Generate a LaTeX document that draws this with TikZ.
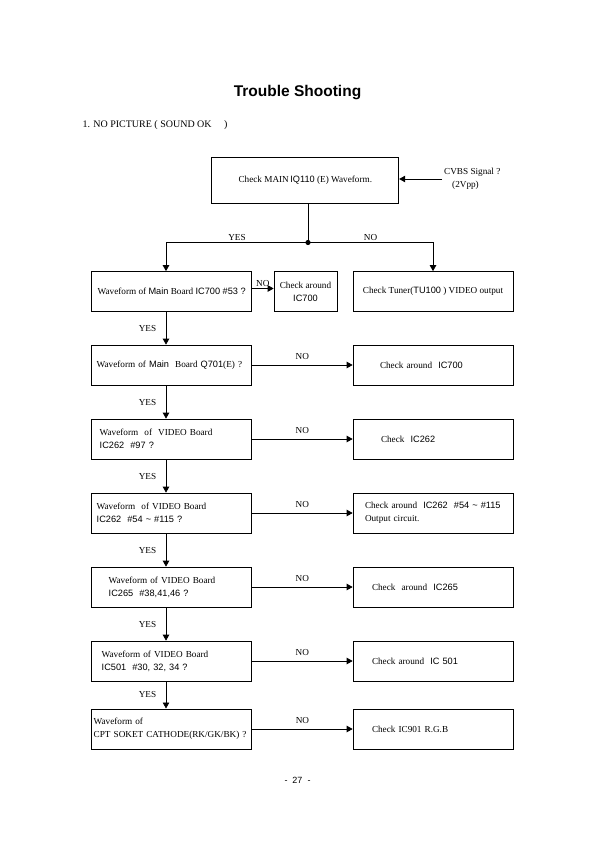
\documentclass[tikz,border=0pt]{standalone}
\usepackage{fontspec}
\setmainfont{Liberation Serif}
\newfontfamily\partfont{Liberation Sans}
\usetikzlibrary{arrows.meta,positioning}
\newcommand{\pn}[1]{{\partfont #1}}

\begin{document}
\begin{tikzpicture}[x=1pt,y=-1pt,>={Triangle[length=6pt,width=6.5pt]},
  every node/.style={font=\fontsize{9.2}{12.8}\selectfont},
  qbox/.style={draw,line width=0.7pt,minimum width=160pt,minimum height=40pt,align=left,inner ysep=0pt},
  lbl/.style={inner sep=1.5pt},
  flow/.style={->,line width=0.7pt}]
\useasboundingbox (0,0) rectangle (595,842);
% heading
\node[font=\fontsize{15.5}{18}\selectfont\bfseries\partfont] (title) at (297.5,93) {Trouble Shooting};
\node[anchor=west,font=\fontsize{10}{12}\selectfont] (case) at (79,125) {1. NO PICTURE ( SOUND OK \quad)};
% first check
\node[qbox,minimum width=187pt,minimum height=46pt,align=center] (top) at (305.3,180) {Check MAIN\,\pn{IQ110} (E) Waveform.};
\node[anchor=west,align=left,inner sep=2pt] (cvbs) at (442,179) {CVBS Signal ?\\\hspace{8pt}(2Vpp)};
\coordinate (split) at (308,242.5);
\coordinate (spine) at (166,0);
% question boxes
\node[qbox,align=center] (q1) at (171.7,291.5) {Waveform of \pn{Main} Board \pn{IC700 \#53 ?}};
\node[qbox,inner xsep=5pt,text width=150pt] (q2) at (171.7,365) {\mbox{Waveform of~\pn{Main}~~Board \pn{Q701}(E) ?}};
\node[qbox,inner xsep=8pt,text width=144pt] (q3) at (171.7,439) {Waveform~~of~~VIDEO Board\\\pn{IC262~~\#97 ?}};
\node[qbox,inner xsep=5pt,text width=150pt] (q4) at (171.7,513) {Waveform~~of VIDEO Board\\\pn{IC262~~\#54 \textasciitilde{} \#115 ?}};
\node[qbox,inner xsep=17pt,text width=126pt] (q5) at (171.7,587) {Waveform of VIDEO Board\\\pn{IC265~~\#38,41,46 ?}};
\node[qbox,inner xsep=10pt,text width=140pt] (q6) at (171.7,661) {Waveform of VIDEO Board\\\pn{IC501~~\#30, 32, 34 ?}};
\node[qbox,line width=1pt,inner xsep=2pt,text width=156pt] (q7) at (171.7,729) {Waveform of\\\mbox{CPT SOKET CATHODE(RK/GK/BK) ?}};
% check boxes
\node[qbox,minimum width=63pt,inner xsep=1pt,align=center] (c1) at (305.5,291.5) {Check around\\\pn{IC700}};
\node[qbox,align=center] (tuner) at (433,291.5) {Check Tuner(\pn{TU100} ) VIDEO output};
\node[qbox,inner xsep=27pt,text width=106pt] (c2) at (433,365) {Check around~~\pn{IC700}};
\node[qbox,inner xsep=28pt,text width=104pt] (c3) at (433,439) {Check~~\pn{IC262}};
\node[qbox,inner xsep=12pt,text width=136pt] (c4) at (433,513) {\mbox{Check around~~\pn{IC262~~\#54 \textasciitilde{} \#115}}\\Output circuit.};
\node[qbox,inner xsep=19pt,text width=122pt] (c5) at (433,587) {Check~~around~~\pn{IC265}};
\node[qbox,inner xsep=19pt,text width=122pt] (c6) at (433,661) {Check around~~\pn{IC 501}};
\node[qbox,inner xsep=19pt,text width=122pt] (c7) at (433,729) {Check IC901 R.G.B};
% connectors
\draw[flow] (cvbs.west) -- (cvbs.west -| top.east);
\draw[line width=0.7pt] (top.south -| split) -- (split);
\fill (split) circle (2.6pt);
\draw[flow] (split) -| node[lbl,pos=0.25,above]{YES} (q1.north -| spine);
\draw[flow] (split) -| node[lbl,pos=0.25,above]{NO} (tuner.north);
\draw[flow] ([yshift=3pt]q1.east) -- node[lbl,above]{NO} ([yshift=3pt]c1.west);
\foreach \a/\b in {q1/q2,q2/q3,q3/q4,q4/q5,q5/q6,q6/q7}
  \draw[flow] (\a.south -| spine) -- node[lbl,left=8pt]{YES} (\b.north -| spine);
\foreach \a/\b in {q2/c2,q3/c3,q4/c4,q5/c5,q6/c6,q7/c7}
  \draw[flow] (\a.east) -- node[lbl,above=4pt]{NO} (\b.west);
% footer
\node[font=\fontsize{9}{11}\selectfont\partfont] (page) at (297.5,780) {-~~27~~-};
\end{tikzpicture}
\end{document}
